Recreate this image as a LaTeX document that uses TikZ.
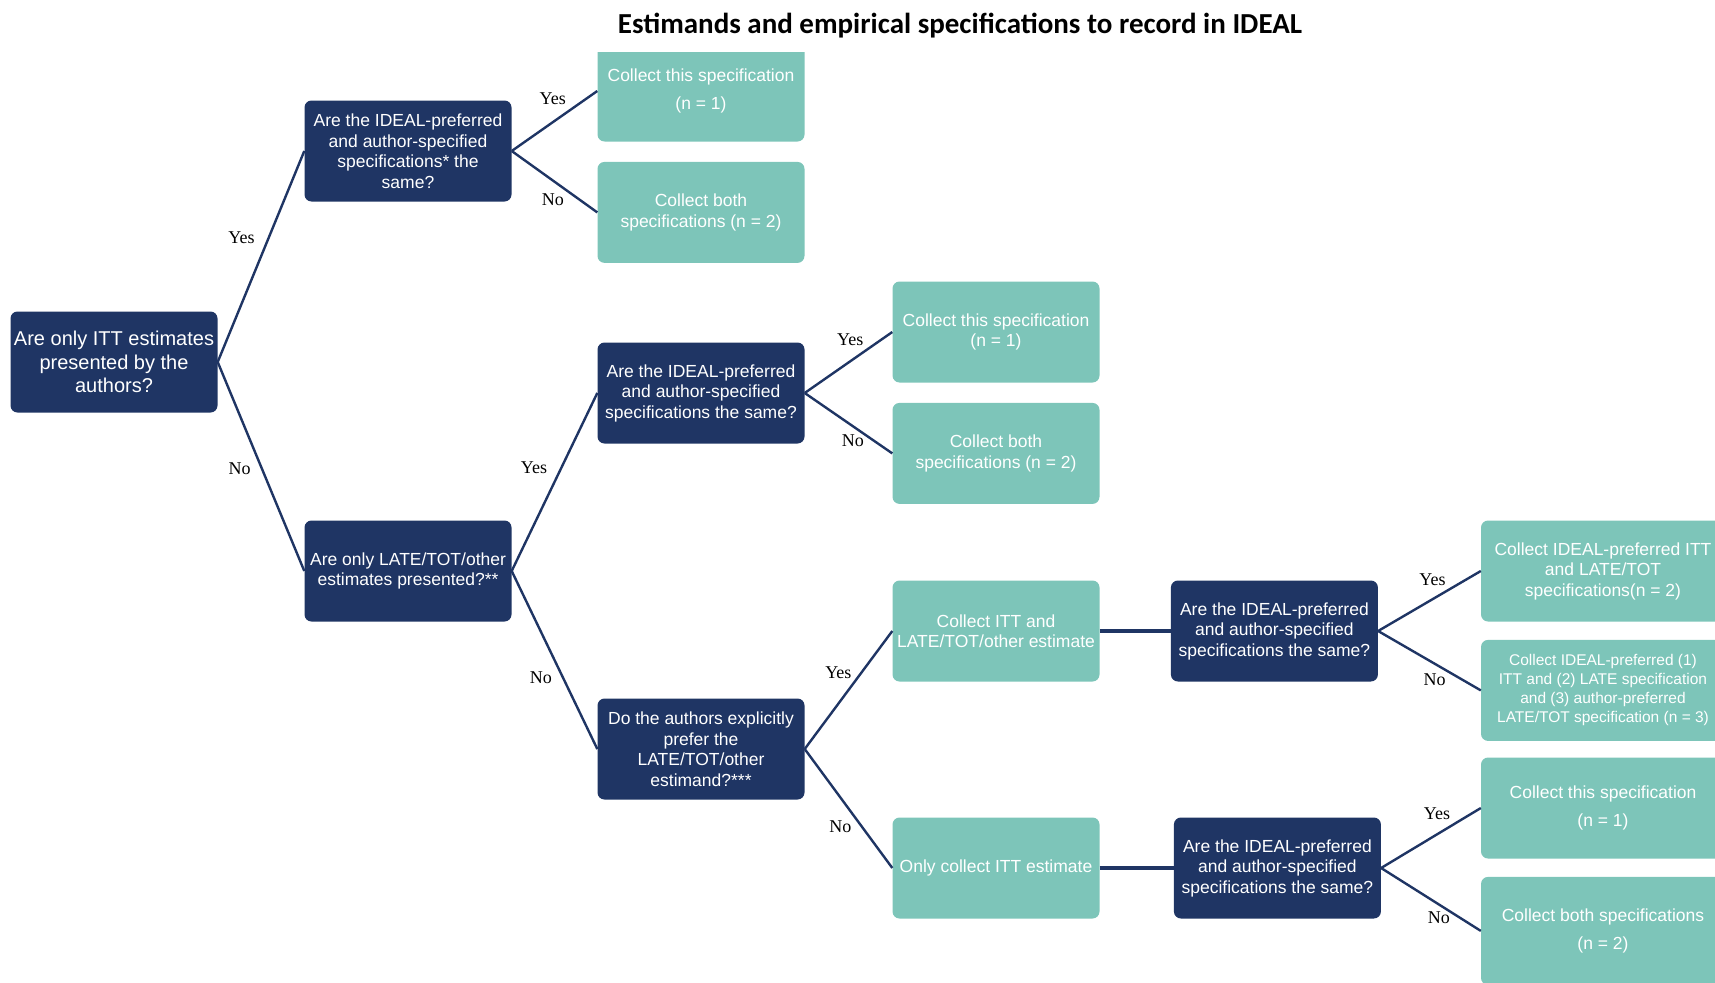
\documentclass[tikz,border=0pt]{standalone}
\usepackage{fontspec}
\setmainfont{Liberation Serif}
\setsansfont{Liberation Sans}
\newfontfamily\titlefont{Carlito}
\usetikzlibrary{positioning}
\definecolor{navy}{RGB}{31,53,100}
\definecolor{mint}{RGB}{125,197,185}

\begin{document}
\begin{tikzpicture}[x=1pt, y=-1pt,
        ask/.style={rectangle, rounded corners=7pt, fill=navy, text=white, align=center,
            font=\sffamily\fontsize{17.5}{20.5}\selectfont,
            minimum width=207pt, minimum height=101pt, inner sep=2pt},
        leaf/.style={ask, fill=mint},
        wide/.style={leaf, minimum width=244pt},
        ans/.style={font=\fontsize{18}{20}\selectfont, inner sep=0pt},
        branch/.style={draw=navy, line width=2.4pt},
        link/.style={draw=navy, line width=3.4pt}]
        \useasboundingbox (0,0) rectangle (1715,982);
        \clip (0,0) rectangle (1715,982);
        \node [anchor=base] (title) at (960,34) {\titlefont\bfseries\fontsize{29}{33}\selectfont Estimands and empirical specifications to record in IDEAL};
        \node [ask, font=\sffamily\fontsize{20}{23.5}\selectfont] (root) at (114,362) {Are only ITT estimates\\presented by the\\authors?};
        \node [ask] (q1) at (408,151) {Are the IDEAL-preferred\\and author-specified\\specifications* the\\same?};
        \node [ask] (q2) at (408,571) {Are only LATE/TOT/other\\estimates presented?**};
        \begin{scope}
            \clip (590,53) rectangle (815,150);
            \node [leaf] (c1) at (701,91) {Collect this specification\\[8pt](n = 1)};
        \end{scope}
        \node [leaf, below=20pt of c1] (c2) {Collect both\\specifications (n = 2)};
        \node [ask] (q3) at (701,393) {Are the IDEAL-preferred\\and author-specified\\specifications the same?};
        \node [ask] (q4) at (701,749) {Do the authors explicitly\\prefer the\\LATE/TOT/other\\estimand?***};
        \node [leaf] (c3) at (996,332) {Collect this specification\\(n = 1)};
        \node [leaf, below=20pt of c3] (c4) {Collect both\\specifications (n = 2)};
        \node [leaf] (c5) at (996,631) {Collect ITT and\\LATE/TOT/other estimate};
        \node [leaf] (c8) at (996,868) {Only collect ITT estimate};
        \node [ask, right=71pt of c5] (q5) {Are the IDEAL-preferred\\and author-specified\\specifications the same?};
        \node [ask, right=74pt of c8] (q6) {Are the IDEAL-preferred\\and author-specified\\specifications the same?};
        \node [wide] (c6) at (1603,571) {Collect IDEAL-preferred ITT\\and LATE/TOT\\specifications(n = 2)};
        \node [wide, below=18pt of c6, font=\sffamily\fontsize{15.5}{19}\selectfont] (c7) {Collect IDEAL-preferred (1)\\ITT and (2) LATE specification\\and (3) author-preferred\\LATE/TOT specification (n = 3)};
        \node [wide] (c9) at (1603,808) {Collect this specification\\[8pt](n = 1)};
        \node [wide, below=18pt of c9, minimum height=108pt] (c10) {Collect both specifications\\[8pt](n = 2)};
        \draw [branch] (root.east) to node [ans, pos=0.59, left=13pt] {Yes} (q1.west);
        \draw [branch] (root.east) to node [ans, pos=0.51, left=10pt] {No} (q2.west);
        \draw [branch] (q1.east) to node [ans, pos=0.48, above=16pt] {Yes} (c1.west);
        \draw [branch] (q1.east) to node [ans, pos=0.48, below=12pt] {No} (c2.west);
        \draw [branch] (q2.east) to node [ans, pos=0.58, left=13pt] {Yes} (q3.west);
        \draw [branch] (q2.east) to node [ans, pos=0.6, left=10pt] {No} (q4.west);
        \draw [branch] (q3.east) to node [ans, pos=0.52, above=14pt] {Yes} (c3.west);
        \draw [branch] (q3.east) to node [ans, pos=0.55, below=7pt] {No} (c4.west);
        \draw [branch] (q4.east) to node [ans, pos=0.65, left=9pt] {Yes} (c5.west);
        \draw [branch] (q4.east) to node [ans, pos=0.65, left=9pt] {No} (c8.west);
        \draw [link] (c5) to (q5);
        \draw [link] (c8) to (q6);
        \draw [branch] (q5.east) to node [ans, pos=0.53, above=12pt] {Yes} (c6.west);
        \draw [branch] (q5.east) to node [ans, pos=0.55, below=9pt] {No} (c7.west);
        \draw [branch] (q6.east) to node [ans, pos=0.56, above=14pt] {Yes} (c9.west);
        \draw [branch] (q6.east) to node [ans, pos=0.58, below=6pt] {No} (c10.west);
\end{tikzpicture}
\end{document}
